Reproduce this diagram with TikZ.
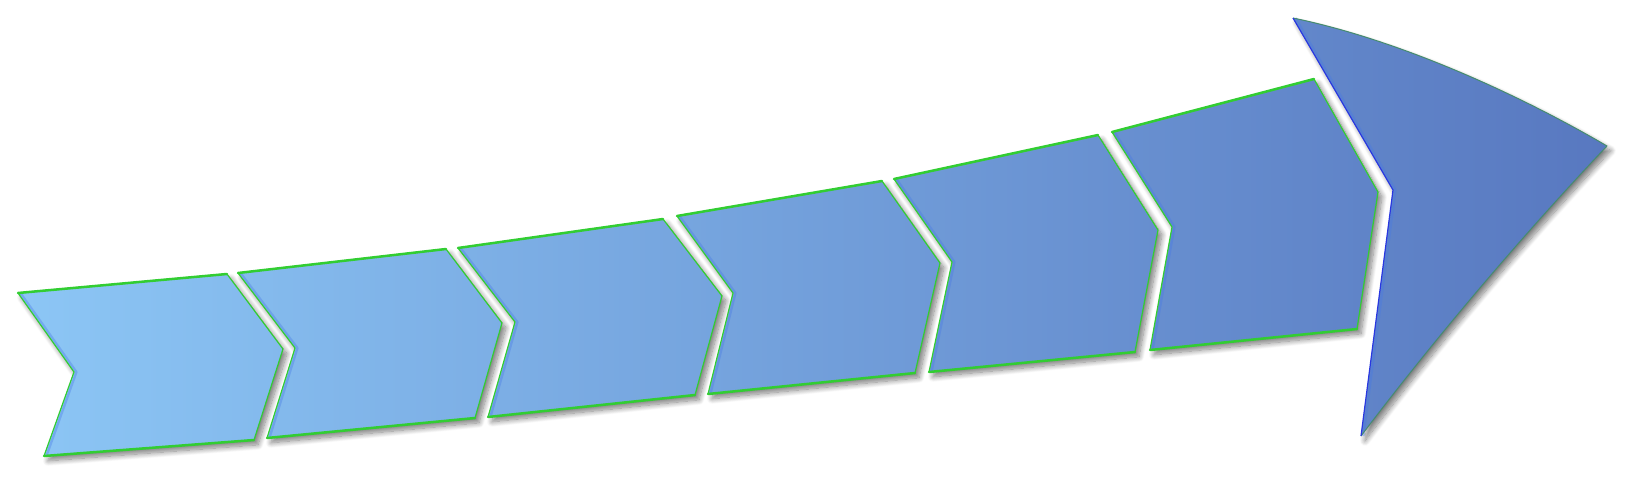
\documentclass[tikz,border=0pt]{standalone}
\usetikzlibrary{shadows.blur}
\definecolor{lightB}{RGB}{140,198,245}
\definecolor{darkB}{RGB}{88,120,192}
\definecolor{edgeG}{RGB}{50,205,50}
\definecolor{edgeB}{RGB}{40,55,225}
\definecolor{edgeD}{RGB}{70,140,110}
\definecolor{glowB}{RGB}{70,120,230}
\tikzset{
  shadowed/.style={blur shadow={shadow xshift=2pt, shadow yshift=-2.4pt, shadow blur radius=2.6pt, shadow blur steps=12, shadow opacity=50}},
  chevfill/.style={left color=lightB, right color=darkB},
  thinG/.style={draw=edgeG, line width=0.6pt, line join=round},
  thickG/.style={draw=edgeG, line width=1.25pt, line cap=round},
  headL/.style={draw=edgeB, line width=0.6pt, line join=round},
  headR/.style={draw=edgeD, line width=0.5pt, line join=round},
  glow/.style={draw=glowB, opacity=0.35, line width=1.2pt, line join=round},
}
\begin{document}
\begin{tikzpicture}[x=0.5pt,y=-0.5pt]
\useasboundingbox (0,0) rectangle (1630,477);
% chevron corner points: tl, tr, tip, br, bl, notch
\coordinate (c1-tl) at (18,293);   \coordinate (c1-tr) at (227,274);  \coordinate (c1-tp) at (283,349);
\coordinate (c1-br) at (254,440);  \coordinate (c1-bl) at (44,456);   \coordinate (c1-n)  at (74,372);
\coordinate (c2-tl) at (238,273);  \coordinate (c2-tr) at (446,249);  \coordinate (c2-tp) at (502,323);
\coordinate (c2-br) at (475,418);  \coordinate (c2-bl) at (267,438);  \coordinate (c2-n)  at (295,348);
\coordinate (c3-tl) at (458,248);  \coordinate (c3-tr) at (663,219);  \coordinate (c3-tp) at (722,296);
\coordinate (c3-br) at (695,395);  \coordinate (c3-bl) at (488,417);  \coordinate (c3-n)  at (515,322);
\coordinate (c4-tl) at (677,216);  \coordinate (c4-tr) at (882,181);  \coordinate (c4-tp) at (940,263);
\coordinate (c4-br) at (915,373);  \coordinate (c4-bl) at (708,394);  \coordinate (c4-n)  at (733,293);
\coordinate (c5-tl) at (894,179);  \coordinate (c5-tr) at (1098,135); \coordinate (c5-tp) at (1158,230);
\coordinate (c5-br) at (1135,352); \coordinate (c5-bl) at (929,372);  \coordinate (c5-n)  at (952,262);
\coordinate (c6-tl) at (1112,132); \coordinate (c6-tr) at (1314,79);  \coordinate (c6-tp) at (1378,192);
\coordinate (c6-br) at (1357,329); \coordinate (c6-bl) at (1150,350); \coordinate (c6-n)  at (1172,227);
% arrow head
\coordinate (h-t) at (1293,18); \coordinate (h-r) at (1607,146);
\coordinate (h-b) at (1361,436); \coordinate (h-n) at (1393,190);

% filled body with shadow
\shade[shadowed, chevfill]
  (c1-tl)--(c1-tr)--(c1-tp)--(c1-br)--(c1-bl)--(c1-n)--cycle
  (c2-tl)--(c2-tr)--(c2-tp)--(c2-br)--(c2-bl)--(c2-n)--cycle
  (c3-tl)--(c3-tr)--(c3-tp)--(c3-br)--(c3-bl)--(c3-n)--cycle
  (c4-tl)--(c4-tr)--(c4-tp)--(c4-br)--(c4-bl)--(c4-n)--cycle
  (c5-tl)--(c5-tr)--(c5-tp)--(c5-br)--(c5-bl)--(c5-n)--cycle
  (c6-tl)--(c6-tr)--(c6-tp)--(c6-br)--(c6-bl)--(c6-n)--cycle
  (h-t) .. controls (1400,40) and (1520,95) .. (h-r)
        .. controls (1535,222) and (1445,325) .. (h-b)
        -- (h-n) -- cycle;

% soft inner glow along the notched left edges
\foreach \i in {1,...,6}{
  \draw[glow] ([xshift=1.2pt]c\i-tl) -- ([xshift=1.2pt]c\i-n) -- ([xshift=1.2pt]c\i-bl);
}
\draw[glow] ([xshift=1.2pt]h-t) -- ([xshift=1.2pt]h-n) -- ([xshift=1.2pt]h-b);

% outlines
\foreach \i in {1,...,6}{
  \draw[thinG] (c\i-tl)--(c\i-tr)--(c\i-tp)--(c\i-br)--(c\i-bl)--(c\i-n)--cycle;
  \draw[thickG] (c\i-tl)--(c\i-tr);
  \draw[thickG] (c\i-bl)--(c\i-br);
}
\draw[headR] (h-t) .. controls (1400,40) and (1520,95) .. (h-r)
        .. controls (1535,222) and (1445,325) .. (h-b);
\draw[headL] (h-b) -- (h-n) -- (h-t);
\end{tikzpicture}
\end{document}
